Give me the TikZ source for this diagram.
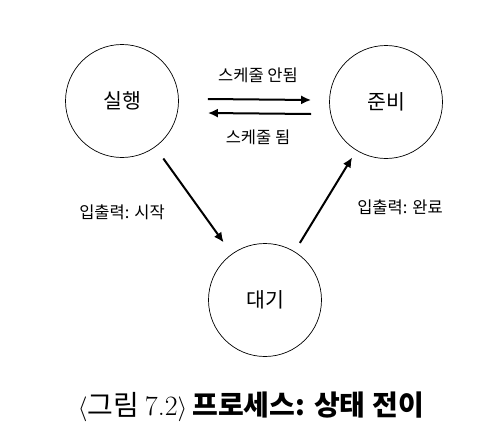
\documentclass[tikz,border=0pt]{standalone}
\usepackage{fontspec}
\newfontfamily\krfont{Noto Sans CJK KR}
\usepackage{tikz}
\usetikzlibrary{arrows.meta,positioning}

\begin{document}
\begin{tikzpicture}[x=1pt, y=-1pt,
    state/.style={draw, circle, line width=0.7pt, minimum size=113pt, inner sep=0pt, font=\krfont\fontsize{20.5}{22}\selectfont},
    trans/.style={line width=2pt, -{Latex[length=10pt, width=9pt]}},
    lab/.style={font=\krfont\fontsize{16.5}{18}\selectfont}]
  % page frame (487x437 px)
  \useasboundingbox (0,0) rectangle (487,437);

  % States
  \node[state] (run)   at (122,101) {실행};
  \node[state] (ready) at (386,102) {준비};
  \node[state] (wait)  at (265,300) {대기};

  % Scheduling arrows
  \draw[trans] ([xshift=29pt,yshift=2pt]run.east) -- ([xshift=-18pt,yshift=2pt]ready.west);
  \draw[trans] ([xshift=-18pt,yshift=-12pt]ready.west) -- ([xshift=29pt,yshift=-12pt]run.east);
  \node[lab] (unsched) at (258,75)  {스케줄 안됨};
  \node[lab] (sched)   at (258,137) {스케줄 됨};

  % I/O arrows
  \draw[trans, shorten <=14pt, shorten >=14pt] (run) -- (wait);
  \draw[trans, shorten <=10pt, shorten >=8pt] (wait) -- (ready);
  \node[lab] (iostart) at (122,212) {입출력: 시작};
  \node[lab] (iodone)  at (400,207) {입출력: 완료};

  % Caption
  \node[font=\fontsize{28}{30}\selectfont] (caption) at (251,407)
    {$\langle${\krfont 그림}\hspace{6pt}7.2$\rangle$\hspace{5pt}{\krfont\bfseries 프로세스:\hspace{9pt}상태\hspace{7pt}전이}};
\end{tikzpicture}
\end{document}
